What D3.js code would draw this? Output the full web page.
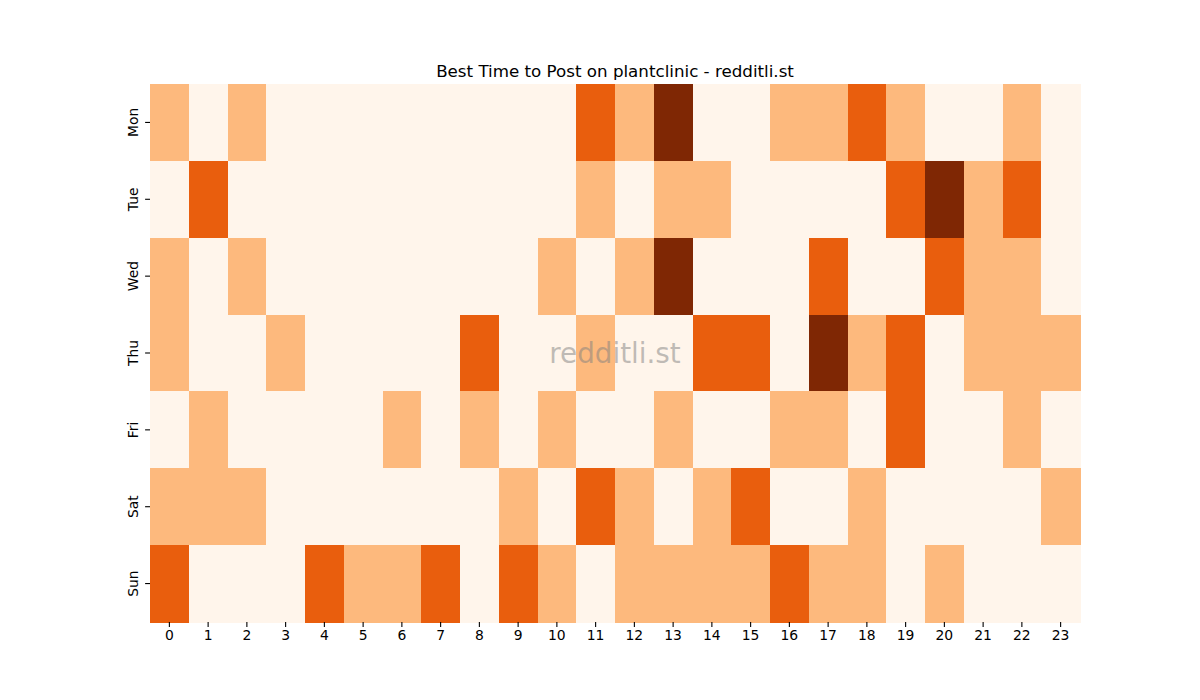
<!DOCTYPE html>
<html><head><meta charset="utf-8">
<script src="https://cdn.jsdelivr.net/npm/d3@7"></script>
<style>body{margin:0;background:#fff;} text{font-family:"DejaVu Sans",sans-serif;}</style>
</head><body>
<svg id="c" width="1200" height="700"></svg>
<script>
const days = ["Mon","Tue","Wed","Thu","Fri","Sat","Sun"];
const hours = ["0","1","2","3","4","5","6","7","8","9","10","11","12","13","14","15","16","17","18","19","20","21","22","23"];
const mon = [1,0,1,0,0,0,0,0,0,0,0,2,1,3,0,0,1,1,2,1,0,0,1,0];
const tue = [0,2,0,0,0,0,0,0,0,0,0,1,0,1,1,0,0,0,0,2,3,1,2,0];
const wed = [1,0,1,0,0,0,0,0,0,0,1,0,1,3,0,0,0,2,0,0,2,1,1,0];
const thu = [1,0,0,1,0,0,0,0,2,0,0,1,0,0,2,2,0,3,1,2,0,1,1,1];
const fri = [0,1,0,0,0,0,1,0,1,0,1,0,0,1,0,0,1,1,0,2,0,0,1,0];
const sat = [1,1,1,0,0,0,0,0,0,1,0,2,1,0,1,2,0,0,1,0,0,0,0,1];
const sun = [2,0,0,0,2,1,1,2,0,2,1,0,1,1,1,1,2,1,1,0,1,0,0,0];
const rows = [mon,tue,wed,thu,fri,sat,sun];
const palette = ["#fff5eb","#fdb97d","#e95e0d","#7f2704"];

const svg = d3.select("#c");
const L=150, R=1080, T=84, B=622;
const x = d3.scaleBand().domain(hours).range([L,R]).padding(0);
const y = d3.scaleBand().domain(days).range([T,B]).padding(0);
const color = d3.scaleOrdinal().domain([0,1,2,3]).range(palette);

const cells = [];
rows.forEach((r,i)=>r.forEach((v,j)=>cells.push({d:days[i],h:hours[j],v})));
svg.append("g").selectAll("rect").data(cells).join("rect")
  .attr("x",d=>x(d.h)).attr("y",d=>y(d.d))
  .attr("width",x.bandwidth()+0.5).attr("height",y.bandwidth()+0.5)
  .attr("fill",d=>color(d.v)).attr("shape-rendering","crispEdges");

const xa = svg.append("g").attr("transform",`translate(0,${B})`).call(d3.axisBottom(x).tickSize(4.9).tickPadding(3.5));
xa.select(".domain").remove();
xa.selectAll("text").attr("font-size",13.9).attr("fill","#000").style("font-family","DejaVu Sans");
xa.selectAll("line").attr("stroke","#000").attr("stroke-width",1.1);

const ya = svg.append("g").attr("transform",`translate(${L},0)`).call(d3.axisLeft(y).tickSize(4.9).tickPadding(3.5));
ya.select(".domain").remove();
ya.selectAll("line").attr("stroke","#000").attr("stroke-width",1.1);
ya.selectAll("text").attr("font-size",13.9).attr("fill","#000").style("font-family","DejaVu Sans")
  .attr("text-anchor","middle").attr("dy",null).attr("x",null)
  .attr("transform","translate(-17,0) rotate(-90)").attr("dominant-baseline","central");

svg.append("text").attr("x",(L+R)/2).attr("y",77).attr("text-anchor","middle")
  .attr("font-size",16.7).attr("fill","#000").text("Best Time to Post on plantclinic - redditli.st");

svg.append("text").attr("x",(L+R)/2).attr("y",353).attr("text-anchor","middle")
  .attr("dominant-baseline","central").attr("font-size",27.8).attr("fill","#808080").attr("fill-opacity",0.5)
  .text("redditli.st");
</script>
</body></html>
